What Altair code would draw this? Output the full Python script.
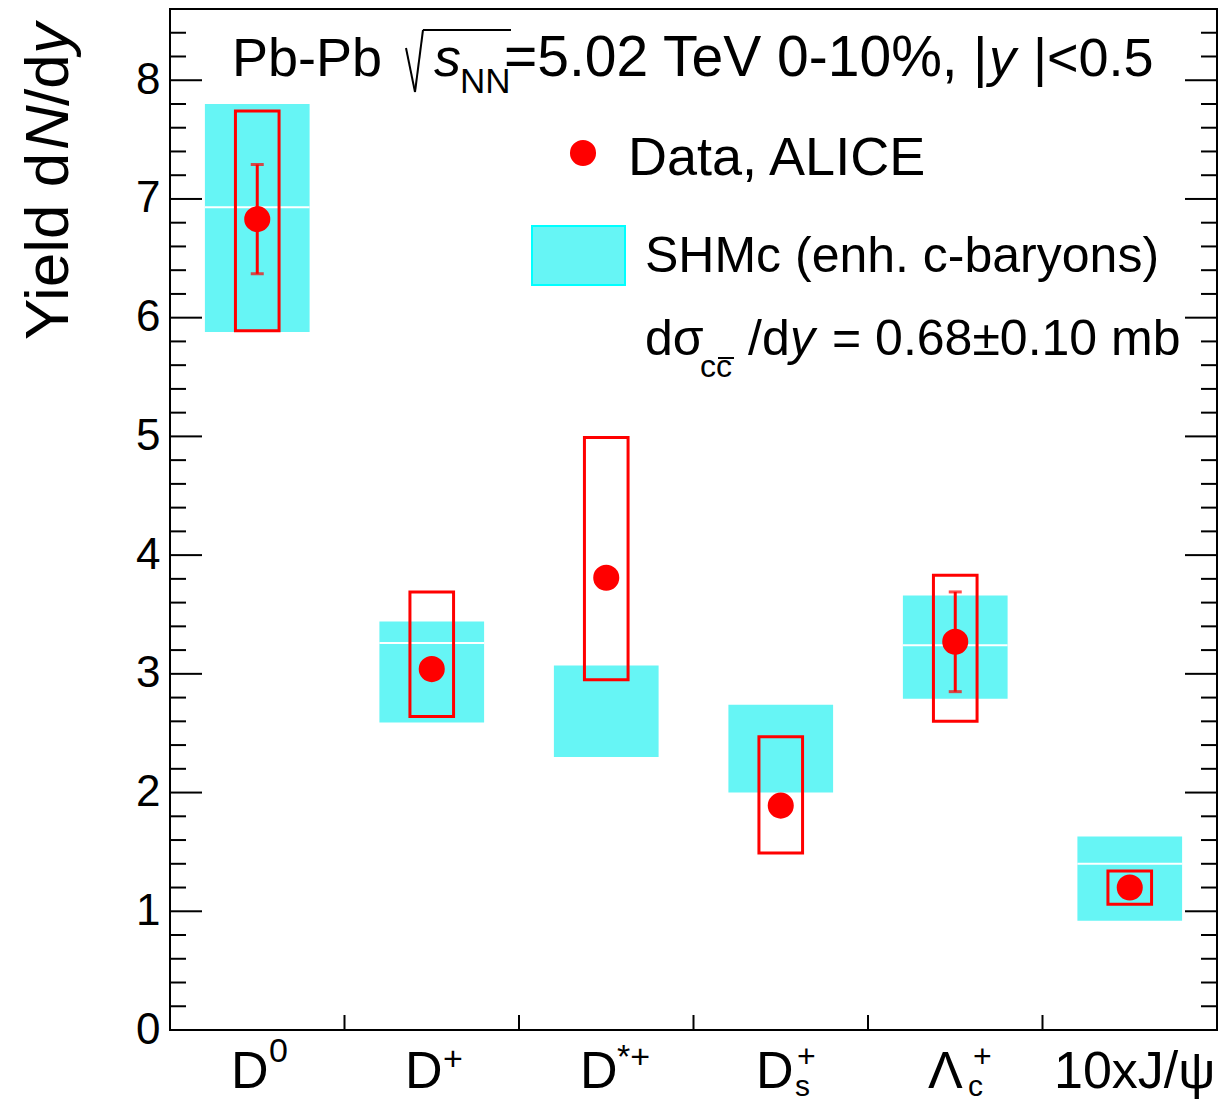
import altair as alt
import pandas as pd
import numpy as np

# ---------------- data ----------------
categories = ["D0", "D+", "D*+", "Ds+", "Lc+", "10xJ/psi"]
data_val = [6.83, 3.04, 3.81, 1.89, 3.27, 1.20]
stat_err = [0.46, 0.05, 0.05, 0.05, 0.42, 0.04]
syst_lo = [5.89, 2.64, 2.95, 1.49, 2.60, 1.06]
syst_hi = [7.74, 3.69, 4.99, 2.47, 3.83, 1.34]
shm_lo = [5.88, 2.59, 2.30, 2.00, 2.79, 0.92]
shm_hi = [7.80, 3.44, 3.07, 2.74, 3.66, 1.63]
shm_mid = [6.93, 3.26, None, None, 3.24, 1.40]
y_tick_values = [0, 1, 2, 3, 4, 5, 6, 7, 8]

# ---------------- layout ----------------
W, H = 1047, 1021          # plot area
PL, PT = 170, 9            # plot origin on the page
XMAX, YMAX = 6.0, 8.6
FONT = "Liberation Sans"
RED = "#ff0000"
CYAN_FILL = "#66f5f5"

pos = np.arange(len(categories)) + 0.5
df = pd.DataFrame({
    "cat": categories,
    "pos": pos,
    "val": data_val,
    "stat_lo": np.array(data_val) - np.array(stat_err),
    "stat_hi": np.array(data_val) + np.array(stat_err),
    "syst_lo": syst_lo,
    "syst_hi": syst_hi,
    "shm_lo": shm_lo,
    "shm_hi": shm_hi,
    "shm_mid": shm_mid,
})
df["box_l"] = df["pos"] - 0.125
df["box_r"] = df["pos"] + 0.125
df["shm_l"] = df["pos"] - 0.30
df["shm_r"] = df["pos"] + 0.30

xs = alt.Scale(domain=[0, XMAX], nice=False, zero=False)
ys = alt.Scale(domain=[0, YMAX], nice=False, zero=False)
yaxis = alt.Axis(values=y_tick_values, labelFontSize=44, labelFont=FONT,
                 labelColor="black", ticks=False, domain=False, grid=False,
                 labelPadding=10, title=None)


def X(f):
    return alt.X(f, type="quantitative", scale=xs, axis=None)


def Y(f):
    return alt.Y(f, type="quantitative", scale=ys, axis=yaxis)


base = alt.Chart(df)

shm = base.mark_rect(fill=CYAN_FILL, strokeWidth=0).encode(
    x=X("shm_l"), x2="shm_r", y=Y("shm_lo"), y2="shm_hi")

shm_line = alt.Chart(df[df["shm_mid"].notna()]).mark_rule(
    color="white", strokeWidth=2).encode(x=X("shm_l"), x2="shm_r", y=Y("shm_mid"))

syst = base.mark_rect(fillOpacity=0, stroke=RED, strokeWidth=3).encode(
    x=X("box_l"), x2="box_r", y=Y("syst_lo"), y2="syst_hi")

stat = base.mark_rule(color=RED, strokeWidth=3).encode(
    x=X("pos"), y=Y("stat_lo"), y2="stat_hi")
cap_hi = base.mark_tick(orient="horizontal", size=13, thickness=3, color=RED).encode(
    x=X("pos"), y=Y("stat_hi"))
cap_lo = base.mark_tick(orient="horizontal", size=13, thickness=3, color=RED).encode(
    x=X("pos"), y=Y("stat_lo"))

pts = base.mark_circle(size=680, color=RED, opacity=1).encode(x=X("pos"), y=Y("val"))

# ---------------- frame and ROOT-style inward ticks ----------------
frame = alt.Chart(pd.DataFrame({"x1": [0.0], "x2": [XMAX], "y1": [0.0], "y2": [YMAX]})).mark_rect(
    fillOpacity=0, stroke="black", strokeWidth=2).encode(
    x=X("x1"), x2="x2", y=Y("y1"), y2="y2")

maj_len = 32 / W * XMAX
min_len = 16 / W * XMAX
majors = np.arange(0, 9, 1.0)
minors = np.array([v for v in np.round(np.arange(0, YMAX + 0.001, 0.2), 1)
                   if abs(v - round(v)) > 1e-6])
tick_rows = []
for v in majors:
    tick_rows.append({"y": v, "x1": 0, "x2": maj_len})
    tick_rows.append({"y": v, "x1": XMAX - maj_len, "x2": XMAX})
for v in minors:
    tick_rows.append({"y": v, "x1": 0, "x2": min_len})
    tick_rows.append({"y": v, "x1": XMAX - min_len, "x2": XMAX})
ticks_df = pd.DataFrame(tick_rows)
yticks = alt.Chart(ticks_df).mark_rule(color="black", strokeWidth=2).encode(
    x=X("x1"), x2="x2", y=Y("y"))

xt_len = 15 / H * YMAX
xticks_df = pd.DataFrame({"x": np.arange(1, 6, 1.0), "y1": 0.0, "y2": xt_len})
xticks = alt.Chart(xticks_df).mark_rule(color="black", strokeWidth=2).encode(
    x=X("x"), y=Y("y1"), y2="y2")


# ---------------- text helpers (page coordinates) ----------------
def txt(text, x, y, size, italic=False, angle=0, align="left", weight=None):
    kw = dict(font=FONT, fontSize=size, align=align, baseline="alphabetic",
              color="black")
    if italic:
        kw["fontStyle"] = "italic"
    if angle:
        kw["angle"] = angle
    if weight:
        kw["fontWeight"] = weight
    return alt.Chart(pd.DataFrame({"t": [text]})).mark_text(**kw).encode(
        text="t:N", x=alt.value(x - PL), y=alt.value(y - PT))


def seg(x1, y1, x2, y2, w=2, color="black"):
    return alt.Chart(pd.DataFrame({"a": [0]})).mark_rule(color=color, strokeWidth=w).encode(
        x=alt.value(x1 - PL), x2=alt.value(x2 - PL),
        y=alt.value(y1 - PT), y2=alt.value(y2 - PT))


texts = []
# title line
texts += [
    txt("Pb-Pb", 232, 76, 54),
    txt("s", 434, 76, 54, italic=True),
    txt("NN", 460, 93, 35),
    txt("=5.02 TeV 0-10%,", 504, 76, 57),
    txt("|", 973, 76, 56),
    txt("y", 989, 76, 54, italic=True),
    txt("|<0.5", 1033, 76, 54),
]
# legend
texts += [
    txt("Data, ALICE", 628, 175, 54),
    txt("SHMc (enh. c-baryons)", 645, 272, 50),
    txt("d\u03c3", 645, 355, 50),
    txt("cc", 700, 377, 32),
    txt("/d", 748, 355, 50),
    txt("y", 790, 355, 50, italic=True),
    txt("= 0.68\u00b10.10 mb", 832, 355, 50),
]
# y-axis title (rotated)
texts += [
    txt("Yield d", 68, 340, 62, angle=270),
    txt("N", 68, 150, 62, italic=True, angle=270),
    txt("/d", 68, 106, 62, angle=270),
    txt("y", 68, 54, 62, italic=True, angle=270),
]
# x-axis category labels
texts += [
    txt("D", 231, 1088, 52), txt("0", 269, 1062, 34),
    txt("D", 405, 1088, 52), txt("+", 443, 1070, 34),
    txt("D", 580, 1088, 52), txt("*+", 617, 1068, 34),
    txt("D", 756, 1088, 52), txt("+", 797, 1067, 32), txt("s", 795, 1096, 30),
    txt("\u039b", 928, 1088, 52), txt("+", 973, 1067, 32), txt("c", 968, 1096, 30),
    txt("10xJ/\u03c8", 1054, 1088, 52),
]

legend_pt = alt.Chart(pd.DataFrame({"a": [0]})).mark_circle(
    size=680, color=RED, opacity=1).encode(x=alt.value(583 - PL), y=alt.value(153 - PT))
legend_box = alt.Chart(pd.DataFrame({"a": [0]})).mark_rect(
    fill=CYAN_FILL, stroke="#00ffff", strokeWidth=2).encode(
    x=alt.value(532 - PL), x2=alt.value(625 - PL),
    y=alt.value(226 - PT), y2=alt.value(285 - PT))

decor = [
    seg(406, 48, 415, 92),      # radical, left stroke
    seg(415, 92, 423, 30),      # radical, right stroke
    seg(423, 30, 511, 30),      # radical bar
    seg(718, 358, 734, 358),    # c-bar
]

chart = alt.layer(
    shm, shm_line, syst, stat, cap_hi, cap_lo, pts, frame, yticks, xticks,
    legend_box, legend_pt, *decor, *texts
).properties(
    width=W, height=H,
    autosize=alt.AutoSizeParams(type="none"),
    padding={"left": PL - 8, "top": PT - 8, "right": 2, "bottom": 72},
).configure_view(
    stroke="black", strokeWidth=2
).configure(font=FONT, background="white")

chart.save("out.html", embed_options={"renderer": "svg", "actions": False})
